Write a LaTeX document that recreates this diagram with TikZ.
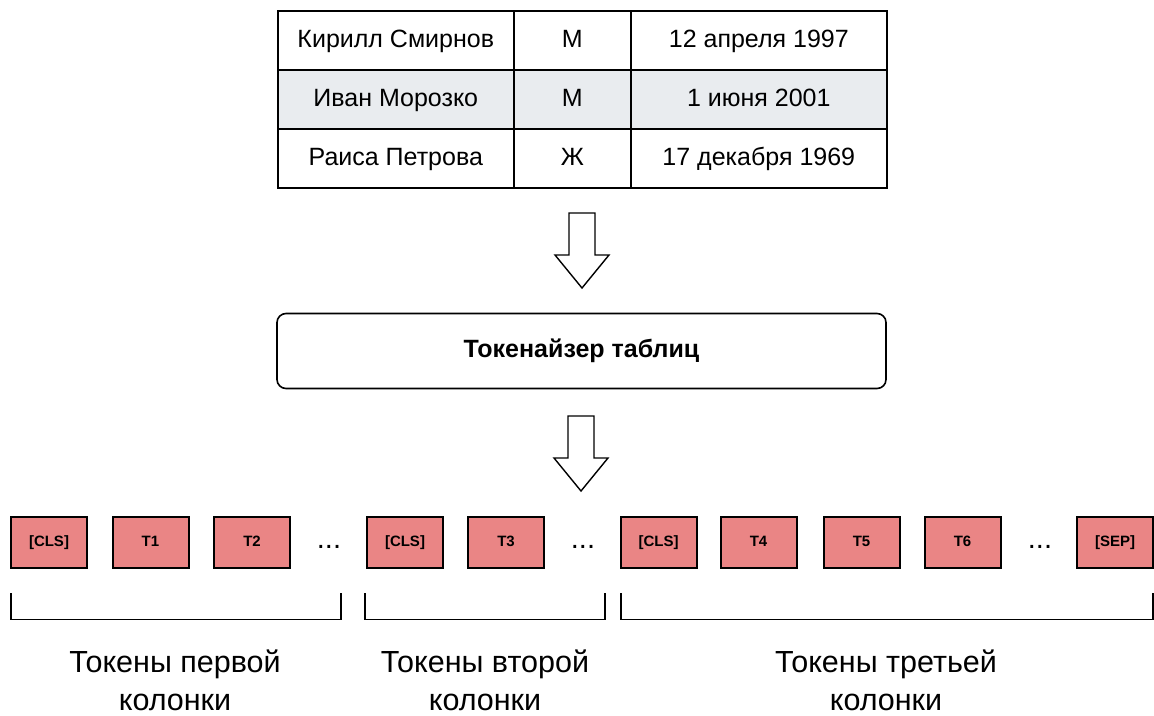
\documentclass[tikz,border=0pt]{standalone}
\usepackage{fontspec}
\setmainfont{Liberation Sans}
\definecolor{tokfill}{HTML}{EA8585}
\definecolor{rowgrey}{HTML}{E9ECEF}
\begin{document}
\begin{tikzpicture}[x=1pt,y=-1pt,
  cell/.style={draw=black,line width=1.6pt,minimum height=59pt,inner sep=0pt,text height=18pt,text depth=4pt,font=\fontsize{25}{30}\selectfont,anchor=north west},
  tok/.style={draw=black,line width=2pt,fill=tokfill,minimum width=76pt,minimum height=51pt,inner sep=0pt,text height=11pt,text depth=3pt,font=\bfseries\fontsize{15}{18}\selectfont},
  dots/.style={font=\fontsize{29}{32}\selectfont},
  brk/.style={line width=1.5pt},
  lbl/.style={align=center,font=\fontsize{30.5}{38}\selectfont},
  bigarrow/.style={draw=black,line width=1.4pt,fill=white}]
\useasboundingbox (0,0) rectangle (1154,715);
% table
\node[cell,minimum width=236pt] (a1) at (277,10) {Кирилл Смирнов};
\node[cell,minimum width=117pt] (b1) at (513,10) {М};
\node[cell,minimum width=256pt] (c1) at (630,10) {12 апреля 1997};
\node[cell,minimum width=236pt,fill=rowgrey] (a2) at (277,69) {Иван Морозко};
\node[cell,minimum width=117pt,fill=rowgrey] (b2) at (513,69) {М};
\node[cell,minimum width=256pt,fill=rowgrey] (c2) at (630,69) {1 июня 2001};
\node[cell,minimum width=236pt] (a3) at (277,128) {Раиса Петрова};
\node[cell,minimum width=117pt] (b3) at (513,128) {Ж};
\node[cell,minimum width=256pt] (c3) at (630,128) {17 декабря 1969};
% arrow 1
\draw[bigarrow] (569,213) -- (595,213) -- (595,255) -- (609,255) -- (582,288) -- (555,255) -- (569,255) -- cycle;
% tokenizer
\node[draw=black,line width=1.6pt,rounded corners=9pt,minimum width=609pt,minimum height=75pt,text height=18pt,text depth=5pt,font=\bfseries\fontsize{25}{30}\selectfont] (tz) at (581.5,351) {Токенайзер таблиц};
% arrow 2
\draw[bigarrow] (568,416) -- (594,416) -- (594,458) -- (608,458) -- (581,491) -- (554,458) -- (568,458) -- cycle;
% tokens
\node[tok] (k1) at (49,542) {[CLS]};
\node[tok] (k2) at (150.5,542) {T1};
\node[tok] (k3) at (252,542) {T2};
\node[dots] (d1) at (329,547) {...};
\node[tok] (k4) at (405,542) {[CLS]};
\node[tok] (k5) at (506,542) {T3};
\node[dots] (d2) at (583,547) {...};
\node[tok] (k6) at (658.5,542) {[CLS]};
\node[tok] (k7) at (758.5,542) {T4};
\node[tok] (k8) at (861.5,542) {T5};
\node[tok] (k9) at (962.5,542) {T6};
\node[dots] (d3) at (1040,547) {...};
\node[tok] (k10) at (1115,542) {[SEP]};
% brackets
\draw[brk] (11,593) -- (11,619.5) -- (341,619.5) -- (341,593);
\draw[brk] (365,593) -- (365,619.5) -- (605,619.5) -- (605,593);
\draw[brk] (621,593) -- (621,619.5) -- (1153,619.5) -- (1153,593);
% labels
\node[lbl] (l1) at (175,680) {Токены первой\\колонки};
\node[lbl] (l2) at (485,680) {Токены второй\\колонки};
\node[lbl] (l3) at (886,680) {Токены третьей\\колонки};
\end{tikzpicture}
\end{document}
